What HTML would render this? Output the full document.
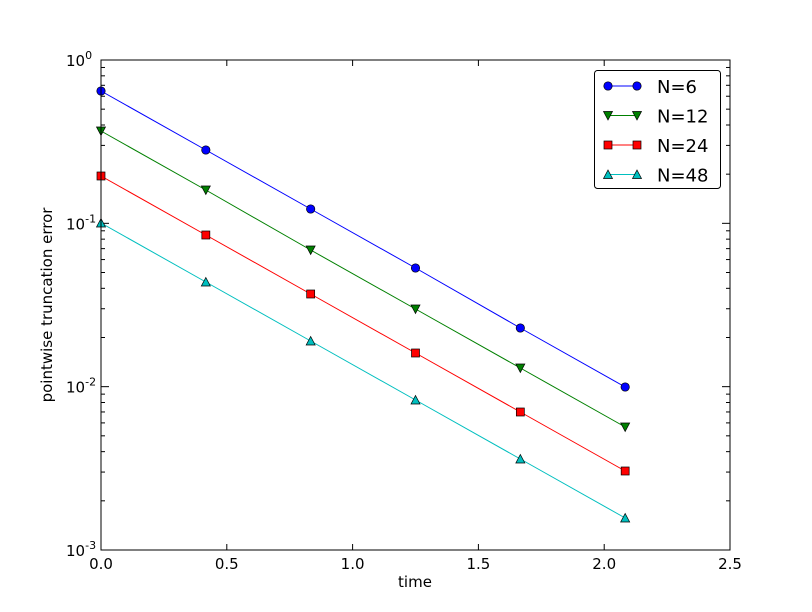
<!DOCTYPE html>
<html><head><meta charset="utf-8"><style>body{margin:0;background:#fff}svg{display:block}text{font-family:"DejaVu Sans","Liberation Sans",sans-serif}</style></head>
<body>
<svg id="s" width="812" height="612" xmlns="http://www.w3.org/2000/svg">
<rect x="0" y="0" width="812" height="612" fill="#fff"/>
<g id="g"></g>
<rect x="101" y="60" width="629" height="490" fill="none" stroke="#000" stroke-width="1"/>
<text x="415" y="587" font-size="15" text-anchor="middle">time</text>
<text transform="translate(52,305) rotate(-90)" font-size="15" text-anchor="middle">pointwise truncation error</text>
<g font-size="15">
<rect x="594.5" y="70.5" width="126" height="118" rx="3" fill="#fff" stroke="#000"/>
</g>
</svg>
<script>
const g=document.getElementById('g'),s=document.getElementById('s');
const NS='http://www.w3.org/2000/svg';
function el(p,t,a,txt){const e=document.createElementNS(NS,t);for(const k in a)e.setAttribute(k,a[k]);if(txt!==undefined)e.textContent=txt;p.appendChild(e);return e;}
const X=v=>101+v*251.6, Y=l=>60-l*163.33;
// x ticks
for(let i=0;i<=5;i++){const v=i*0.5,x=X(v);
el(g,'line',{x1:x,x2:x,y1:550,y2:544,stroke:'#000'});el(g,'line',{x1:x,x2:x,y1:60,y2:66,stroke:'#000'});
el(g,'text',{x:x,y:569,'font-size':15,'text-anchor':'middle'},v.toFixed(1));}
// y ticks
for(let d=0;d>=-3;d--){const y=Y(d);
el(g,'line',{x1:101,x2:109,y1:y,y2:y,stroke:'#000'});el(g,'line',{x1:730,x2:722,y1:y,y2:y,stroke:'#000'});
const t=el(g,'text',{x:66,y:y+6,'font-size':15});el(t,'tspan',{},'10');el(t,'tspan',{dy:-7,'font-size':11},String(d));
if(d>-3)for(let k=2;k<10;k++){const yy=Y(d-1+Math.log10(k));
el(g,'line',{x1:101,x2:105,y1:yy,y2:yy,stroke:'#000'});el(g,'line',{x1:730,x2:726,y1:yy,y2:yy,stroke:'#000'});}}
const xs=[0,1,2,3,4,5].map(i=>X(i*2.5/6));
const series=[
{c:'#0000ff',m:'o',ys:[91,150,209,268,328,387],l:'N=6'},
{c:'#008000',m:'v',ys:[131,190,250,309,368,427],l:'N=12'},
{c:'#ff0000',m:'s',ys:[176,235,294,353,412,471],l:'N=24'},
{c:'#00bfbf',m:'^',ys:[223,282,341,400,459,518],l:'N=48'}];
function mark(p,m,x,y,c){const a={fill:c,stroke:'#000','stroke-width':0.7};
if(m=='o')el(p,'circle',Object.assign({cx:x,cy:y,r:4.2},a));
else if(m=='s')el(p,'rect',Object.assign({x:x-4,y:y-4,width:8,height:8},a));
else if(m=='v')el(p,'polygon',Object.assign({points:`${x-4.5},${y-4} ${x+4.5},${y-4} ${x},${y+4.5}`},a));
else el(p,'polygon',Object.assign({points:`${x-4.5},${y+4} ${x+4.5},${y+4} ${x},${y-4.5}`},a));}
series.forEach((sr,i)=>{
el(g,'polyline',{points:xs.map((x,j)=>x+','+sr.ys[j]).join(' '),fill:'none',stroke:sr.c,'stroke-width':1});
xs.forEach((x,j)=>mark(g,sr.m,x,sr.ys[j],sr.c));
const ly=86+i*29.5;
el(s,'line',{x1:608,x2:637,y1:ly,y2:ly,stroke:sr.c});mark(s,sr.m,608,ly,sr.c);mark(s,sr.m,637,ly,sr.c);
el(s,'text',{x:657,y:ly+7,'font-size':18},sr.l);
});
</script>
</body></html>
